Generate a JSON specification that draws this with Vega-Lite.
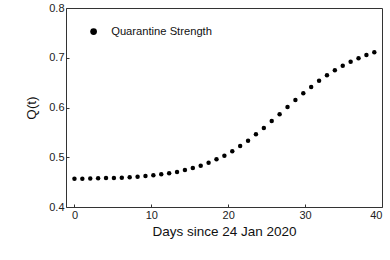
{
  "$schema": "https://vega.github.io/schema/vega-lite/v6.json",
  "autosize": {"type": "none"},
  "width": 316,
  "height": 199,
  "padding": {"left": 66, "top": 8, "right": 8, "bottom": 53},
  "background": "white",
  "config": {
    "font": "Liberation Sans",
    "view": {"stroke": "#333333", "strokeWidth": 1},
    "axis": {"grid": false, "domain": false, "tickSize": 3, "tickColor": "#333333", "labelColor": "#222222", "titleColor": "#111111", "labelFontSize": 11, "titleFontSize": 13.5, "titleFontWeight": "normal", "labelFont": "Liberation Sans", "titleFont": "Liberation Sans"}
  },
  "data": {
    "values": [
      {"day": 0, "q": 0.4570, "series": "Quarantine Strength"},
      {"day": 1.026, "q": 0.4570, "series": "Quarantine Strength"},
      {"day": 2.053, "q": 0.4572, "series": "Quarantine Strength"},
      {"day": 3.079, "q": 0.4576, "series": "Quarantine Strength"},
      {"day": 4.105, "q": 0.4581, "series": "Quarantine Strength"},
      {"day": 5.132, "q": 0.4585, "series": "Quarantine Strength"},
      {"day": 6.158, "q": 0.4590, "series": "Quarantine Strength"},
      {"day": 7.184, "q": 0.4598, "series": "Quarantine Strength"},
      {"day": 8.211, "q": 0.4610, "series": "Quarantine Strength"},
      {"day": 9.237, "q": 0.4623, "series": "Quarantine Strength"},
      {"day": 10.263, "q": 0.4637, "series": "Quarantine Strength"},
      {"day": 11.289, "q": 0.4660, "series": "Quarantine Strength"},
      {"day": 12.316, "q": 0.4677, "series": "Quarantine Strength"},
      {"day": 13.342, "q": 0.4704, "series": "Quarantine Strength"},
      {"day": 14.368, "q": 0.4744, "series": "Quarantine Strength"},
      {"day": 15.395, "q": 0.4784, "series": "Quarantine Strength"},
      {"day": 16.421, "q": 0.4831, "series": "Quarantine Strength"},
      {"day": 17.447, "q": 0.4891, "series": "Quarantine Strength"},
      {"day": 18.474, "q": 0.4958, "series": "Quarantine Strength"},
      {"day": 19.5, "q": 0.5032, "series": "Quarantine Strength"},
      {"day": 20.526, "q": 0.5119, "series": "Quarantine Strength"},
      {"day": 21.553, "q": 0.5226, "series": "Quarantine Strength"},
      {"day": 22.579, "q": 0.5333, "series": "Quarantine Strength"},
      {"day": 23.605, "q": 0.5461, "series": "Quarantine Strength"},
      {"day": 24.632, "q": 0.5588, "series": "Quarantine Strength"},
      {"day": 25.658, "q": 0.5729, "series": "Quarantine Strength"},
      {"day": 26.684, "q": 0.5863, "series": "Quarantine Strength"},
      {"day": 27.711, "q": 0.6010, "series": "Quarantine Strength"},
      {"day": 28.737, "q": 0.6151, "series": "Quarantine Strength"},
      {"day": 29.763, "q": 0.6285, "series": "Quarantine Strength"},
      {"day": 30.789, "q": 0.6412, "series": "Quarantine Strength"},
      {"day": 31.816, "q": 0.6539, "series": "Quarantine Strength"},
      {"day": 32.842, "q": 0.6647, "series": "Quarantine Strength"},
      {"day": 33.868, "q": 0.6748, "series": "Quarantine Strength"},
      {"day": 34.895, "q": 0.6840, "series": "Quarantine Strength"},
      {"day": 35.921, "q": 0.6920, "series": "Quarantine Strength"},
      {"day": 36.947, "q": 0.6988, "series": "Quarantine Strength"},
      {"day": 37.974, "q": 0.7055, "series": "Quarantine Strength"},
      {"day": 39.0, "q": 0.7109, "series": "Quarantine Strength"}
    ]
  },
  "mark": {"type": "circle", "size": 20, "opacity": 1},
  "encoding": {
    "x": {
      "field": "day", "type": "quantitative",
      "scale": {"domain": [-1.1, 40], "nice": false, "zero": false},
      "axis": {"values": [0, 10, 20, 30, 40], "title": "Days since 24 Jan 2020", "tickSize": -3, "labelPadding": 5, "titlePadding": 4}
    },
    "y": {
      "field": "q", "type": "quantitative",
      "scale": {"domain": [0.4, 0.8], "nice": false, "zero": false},
      "axis": {"values": [0.4, 0.5, 0.6, 0.7, 0.8], "format": ".1f", "title": "Q(t)", "tickSize": -3, "labelPadding": 5, "titlePadding": 10}
    },
    "color": {
      "field": "series", "type": "nominal",
      "scale": {"range": ["#000000"]},
      "legend": {"title": null, "orient": "none", "legendX": 22, "legendY": 18, "labelFontSize": 11.2, "labelColor": "#111111", "symbolSize": 45, "symbolType": "circle", "labelOffset": 12}
    }
  }
}
